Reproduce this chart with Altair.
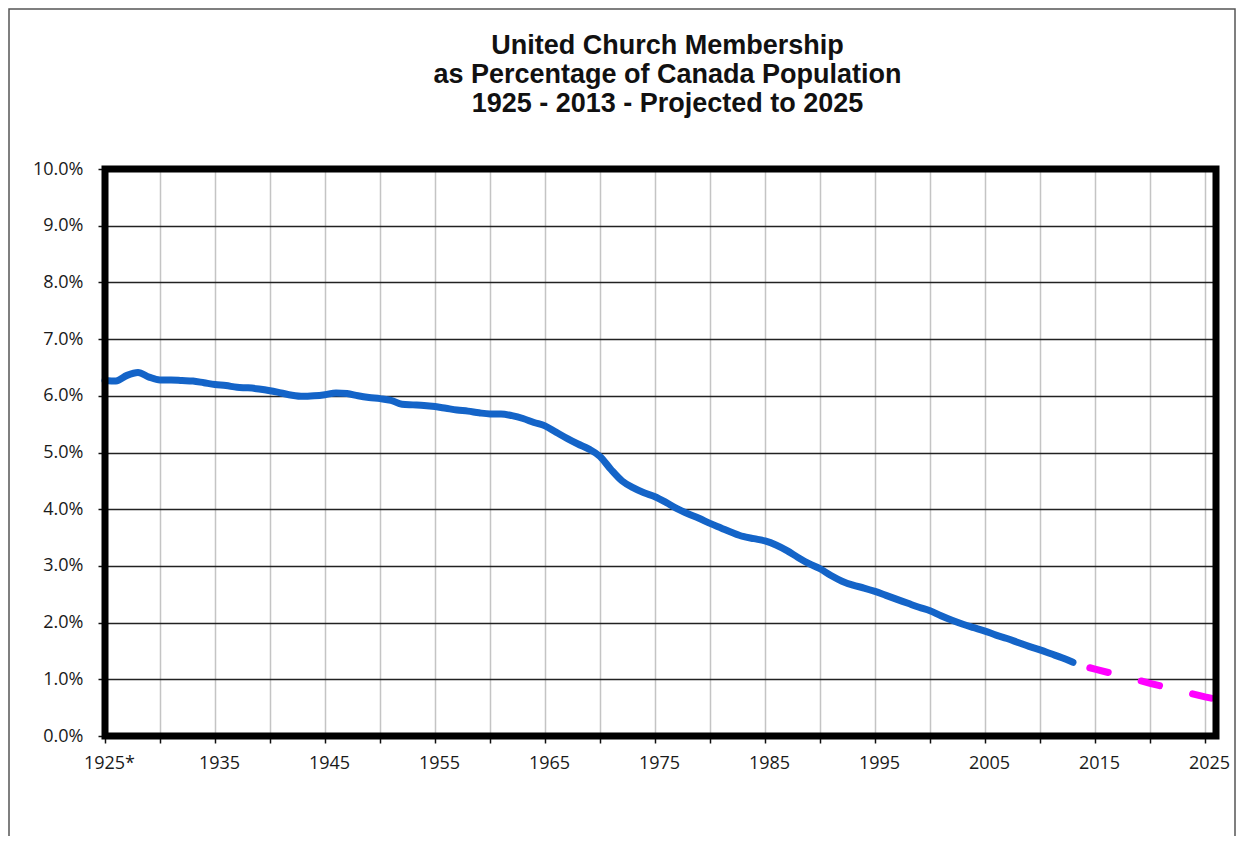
import altair as alt
import pandas as pd

# Observed membership (% of Canada population)
hist_years = [1925, 1926, 1927, 1928, 1929, 1930, 1931, 1932, 1933, 1934,
              1935, 1936, 1937, 1938, 1939, 1940, 1941, 1942, 1943, 1944,
              1945, 1946, 1947, 1948, 1949, 1950, 1951, 1952, 1953, 1954,
              1955, 1956, 1957, 1958, 1959, 1960, 1961, 1962, 1963, 1964,
              1965, 1966, 1967, 1968, 1969, 1970, 1971, 1972, 1973, 1974,
              1975, 1976, 1977, 1978, 1979, 1980, 1981, 1982, 1983, 1984,
              1985, 1986, 1987, 1988, 1989, 1990, 1991, 1992, 1993, 1994,
              1995, 1996, 1997, 1998, 1999, 2000, 2001, 2002, 2003, 2004,
              2005, 2006, 2007, 2008, 2009, 2010, 2011, 2012, 2013]
hist_pct = [6.27, 6.26, 6.36, 6.41, 6.33, 6.28, 6.28, 6.27, 6.26, 6.23,
            6.20, 6.18, 6.15, 6.14, 6.12, 6.09, 6.05, 6.01, 5.99, 6.00,
            6.02, 6.05, 6.04, 6.00, 5.97, 5.95, 5.92, 5.85, 5.84, 5.83,
            5.81, 5.78, 5.75, 5.73, 5.70, 5.68, 5.68, 5.65, 5.60, 5.53,
            5.47, 5.36, 5.25, 5.15, 5.06, 4.93, 4.70, 4.50, 4.38, 4.29,
            4.22, 4.12, 4.01, 3.92, 3.84, 3.75, 3.67, 3.59, 3.52, 3.48,
            3.44, 3.37, 3.27, 3.15, 3.04, 2.95, 2.83, 2.73, 2.66, 2.61,
            2.55, 2.48, 2.41, 2.34, 2.27, 2.21, 2.12, 2.04, 1.97, 1.91,
            1.85, 1.78, 1.72, 1.65, 1.58, 1.52, 1.45, 1.38, 1.30]

# Projection
proj_years = [2014, 2015, 2020, 2025, 2026]
proj_pct = [1.23, 1.18, 0.93, 0.69, 0.65]

title_lines = ["United Church Membership",
               "as Percentage of Canada Population",
               "1925 - 2013 - Projected to 2025"]

x_ticks = list(range(1925, 2026, 5))
y_ticks = list(range(0, 11))

hist = pd.DataFrame({"year": hist_years, "pct": hist_pct})
proj = pd.DataFrame({"year": proj_years, "pct": proj_pct})

W, H = 1111, 567
LABEL_FONT = "Open Sans"

x_scale = alt.Scale(domain=[1925, 2026], nice=False, zero=False)
y_scale = alt.Scale(domain=[0, 10], nice=False, zero=True)

x_axis = alt.Axis(
    values=x_ticks,
    labelExpr="datum.value % 10 == 5 ? (datum.value == 1925 ? '1925*' : format(datum.value, 'd')) : ''",
    grid=True, gridColor="#c4c4c4", gridWidth=1.5,
    ticks=True, tickColor="#111", tickSize=7, tickWidth=1.5,
    domain=False,
    labelFont=LABEL_FONT, labelFontSize=18, labelColor="#1a1a1a",
    labelPadding=11, labelOffset=4, labelFlush=False, labelOverlap=False,
    title=None,
)
y_axis = alt.Axis(
    values=y_ticks,
    labelExpr="format(datum.value, '.1f') + '%'",
    grid=True, gridColor="#222", gridWidth=1.5,
    ticks=True, tickColor="#111", tickSize=7, tickWidth=1.5,
    domain=False,
    labelFont=LABEL_FONT, labelFontSize=18, labelColor="#1a1a1a",
    labelPadding=15, labelOverlap=False,
    title=None,
)

base_x = alt.X("year:Q", scale=x_scale, axis=x_axis)
base_y = alt.Y("pct:Q", scale=y_scale, axis=y_axis)

hist_line = alt.Chart(hist).mark_line(
    color="#1464c8", strokeWidth=7, strokeCap="round", interpolate="monotone"
).encode(x=base_x, y=base_y)

proj_line = alt.Chart(proj).mark_line(
    color="#ff00ff", strokeWidth=7, strokeCap="round",
    strokeDash=[19, 34], strokeDashOffset=-6
).encode(x="year:Q", y="pct:Q")

frame = alt.Chart(pd.DataFrame({"a": [0]})).mark_rect(
    filled=False, stroke="#000", strokeWidth=7
).encode(
    x=alt.datum(1925), x2=alt.datum(2026),
    y=alt.datum(0), y2=alt.datum(10),
)

outer = alt.Chart(pd.DataFrame({"a": [0]})).mark_rect(
    filled=False, stroke="#555", strokeWidth=1.5
).encode(
    x=alt.value(-96), x2=alt.value(W + 19),
    y=alt.value(-160), y2=alt.value(H + 150),
)

chart = alt.layer(hist_line, proj_line, frame, outer).properties(
    width=W, height=H,
    autosize=alt.AutoSizeParams(type="none"),
    padding={"left": 97, "top": 161, "right": 20, "bottom": 100},
    title=alt.Title(
        text=title_lines, fontSize=27, font="Liberation Sans",
        fontWeight="bold", color="#111", anchor="middle",
        offset=-110, dx=7, lineHeight=29,
    ),
    background="white",
).configure_view(stroke="transparent")

chart.save("out.html", embed_options={"renderer": "svg", "actions": False})
